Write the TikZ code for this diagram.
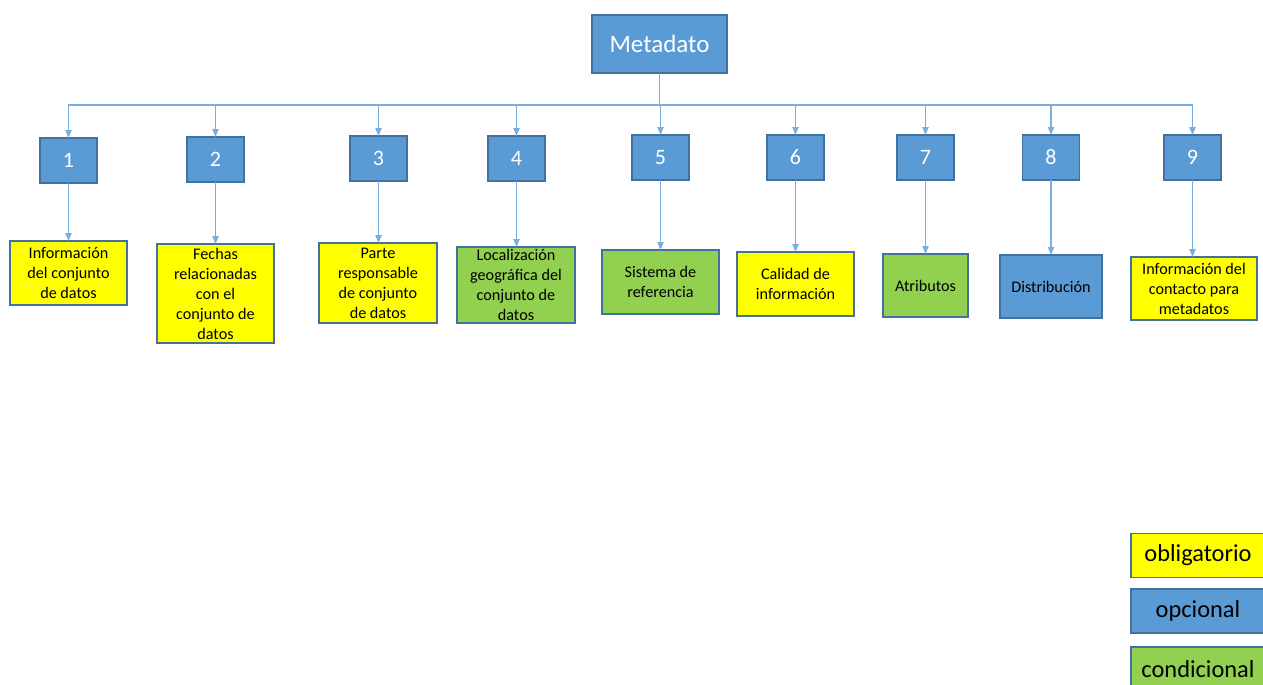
\documentclass[tikz,border=0pt]{standalone}
\usepackage{fontspec}
\setmainfont{Carlito}
\usetikzlibrary{arrows.meta}
\definecolor{azul}{HTML}{5B9BD5}
\definecolor{azulborde}{HTML}{41719C}
\definecolor{azulclaro}{HTML}{7AAEDF}
\definecolor{amarillo}{HTML}{FFFF00}
\definecolor{verde}{HTML}{92D050}
\tikzset{
    caja/.style = {draw=azulborde, line width=0.6pt, align=center, inner sep=0pt, outer sep=0pt},
    numbox/.style = {caja, fill=azul, text=white, minimum width=28.5pt, minimum height=22.5pt,
                     font=\fontsize{11}{13}\selectfont},
    obligatorio/.style = {caja, fill=amarillo},
    opcional/.style = {caja, fill=azul},
    condicional/.style = {caja, fill=verde},
    desc/.style = {font=\fontsize{8.1}{10}\selectfont},
    leyenda/.style = {minimum width=67pt, minimum height=22pt, font=\fontsize{12.2}{15}\selectfont},
    conector/.style = {draw=azulclaro, line width=0.55pt},
    flecha/.style = {conector, -{Triangle[width=3.2pt, length=4pt]}}
}
\begin{document}
\begin{tikzpicture}[x=0.5pt, y=-0.5pt]
    \useasboundingbox (0,0) rectangle (1263,685);
    % Root
    \node[numbox, minimum width=67.5pt, minimum height=29pt, font=\fontsize{12.5}{15}\selectfont]
        (meta) at (659.5,44) {Metadato};
    \coordinate (bus) at (659.5,105);
    % Sections
    \foreach \n/\x/\y in {1/68.5/160.5, 2/215.5/159.5, 3/378.5/158.5, 4/516.5/158.5, 5/660.5/157.5,
                          6/795.5/157.5, 7/925.5/157.5, 8/1051/157.5, 9/1192.5/157.5}
    {
        \node[numbox] (n\n) at (\x,\y) {\n};
        \draw[flecha] (meta.south) -- (bus) -| (n\n.north);
    }
    % Elements
    \node[obligatorio, desc, minimum width=58.5pt, minimum height=32pt]
        (d1) at (68.5,273) {Información\\del conjunto\\de datos};
    \node[obligatorio, desc, minimum width=58.5pt, minimum height=49.5pt]
        (d2) at (215.5,293.5) {Fechas\\relacionadas\\con el\\conjunto de\\datos};
    \node[obligatorio, desc, minimum width=59pt, minimum height=40pt]
        (d3) at (378,283) {Parte\\responsable\\de conjunto\\de datos};
    \node[condicional, desc, minimum width=59pt, minimum height=38pt]
        (d4) at (516,285) {Localización\\geográfica del\\conjunto de\\datos};
    \node[condicional, desc, minimum width=58.5pt, minimum height=32pt]
        (d5) at (660.5,282) {Sistema de\\referencia};
    \node[obligatorio, desc, minimum width=58.5pt, minimum height=32pt]
        (d6) at (795.5,284) {Calidad de\\información};
    \node[condicional, desc, minimum width=42.5pt, minimum height=31.5pt]
        (d7) at (925.5,285.5) {Atributos};
    \node[opcional, desc, minimum width=51pt, minimum height=31.5pt]
        (d8) at (1051,286.5) {Distribución};
    \node[obligatorio, desc, minimum width=63pt, minimum height=31.5pt]
        (d9) at (1194,288.5) {Información del\\contacto para\\metadatos};
    \foreach \n in {1,...,9}
        \draw[flecha] (n\n.south) -- (n\n.south |- d\n.north);
    % Legend
    \node[obligatorio, leyenda] (lob) at (1198,555.5) {obligatorio};
    \node[opcional, leyenda] (lop) at (1198,611) {opcional};
    \node[condicional, leyenda] (lco) at (1198,669) {condicional};
\end{tikzpicture}
\end{document}
